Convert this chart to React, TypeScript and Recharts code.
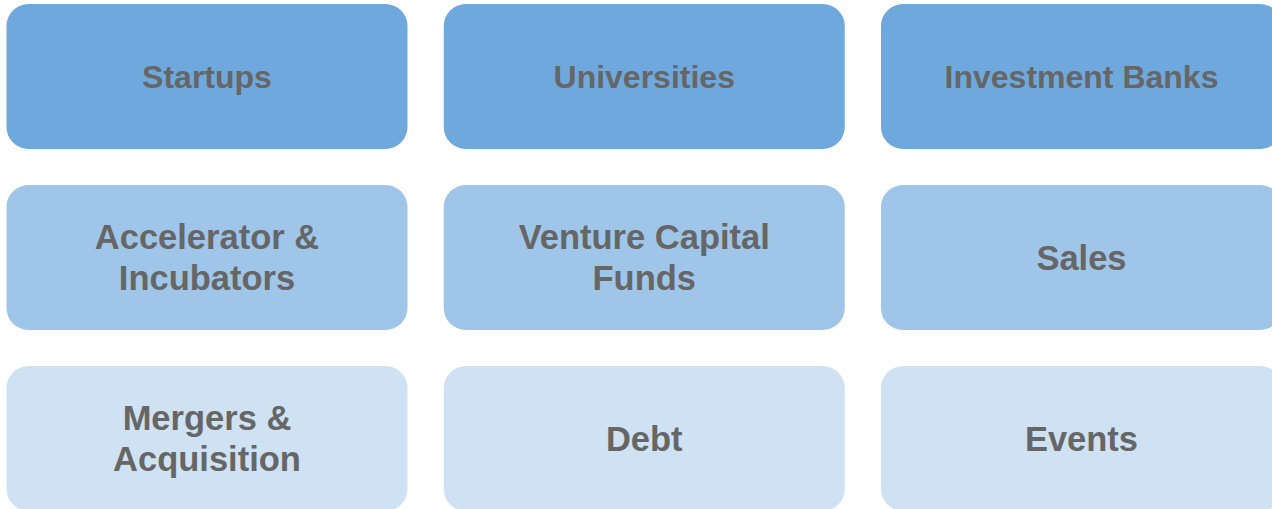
import { ScatterChart, Scatter, XAxis, YAxis } from 'recharts'

// tiles, read left to right, top to bottom
const tier1Labels = ['Startups', 'Universities', 'Investment Banks']
const tier2Labels = ['Accelerator &\nIncubators', 'Venture Capital\nFunds', 'Sales']
const tier3Labels = ['Mergers &\nAcquisition', 'Debt', 'Events']
const columnIndex = [0, 1, 2]

const tierColors = ['#6fa8dc', '#9fc5e8', '#cfe2f3']
const tierFontSizes = [32, 34.5, 34.5]

const BOX_W = 401
const BOX_H = 145
const LINE_H = 41

const toRows = (labels: string[], row: number) =>
    labels.map((label, i) => ({ col: columnIndex[i], row, label }))

const tiers = [toRows(tier1Labels, 0), toRows(tier2Labels, 1), toRows(tier3Labels, 2)]

// rounded tile with its centered label
function Tile(props: any) {
    const { cx, cy, payload, fill, fontSize } = props
    const lines: string[] = payload.label.split('\n')
    const first = -((lines.length - 1) * LINE_H) / 2
    // baseline shift so the cap height sits on the centre
    const shift = fontSize * 0.35
    return (
        <g>
            <rect x={cx - BOX_W / 2} y={cy - BOX_H / 2} width={BOX_W} height={BOX_H} rx={22} ry={22} fill={fill} />
            <text
                x={cx}
                y={cy}
                textAnchor="middle"
                fill="#666666"
                fontSize={fontSize}
                fontWeight="bold"
                fontFamily="'Liberation Sans', Arial, sans-serif"
            >
                {lines.map((line, i) => (
                    <tspan key={i} x={cx} y={cy + first + i * LINE_H + shift}>{line}</tspan>
                ))}
            </text>
        </g>
    )
}

export default function App() {
    return (
        <div style={{ position: 'fixed', left: 0, top: 0, background: '#ffffff' }}>
            <ScatterChart width={1272} height={509} margin={{ top: 0, right: 0, bottom: 0, left: 0 }}>
                <XAxis type="number" dataKey="col" domain={[-0.4734, 2.4357]} hide />
                <YAxis type="number" dataKey="row" domain={[-0.4227, 2.3895]} reversed hide />
                {tiers.map((data, i) => (
                    <Scatter
                        key={i}
                        data={data}
                        fill={tierColors[i]}
                        shape={(p: any) => <Tile {...p} fill={tierColors[i]} fontSize={tierFontSizes[i]} />}
                        isAnimationActive={false}
                    />
                ))}
            </ScatterChart>
        </div>
    )
}
